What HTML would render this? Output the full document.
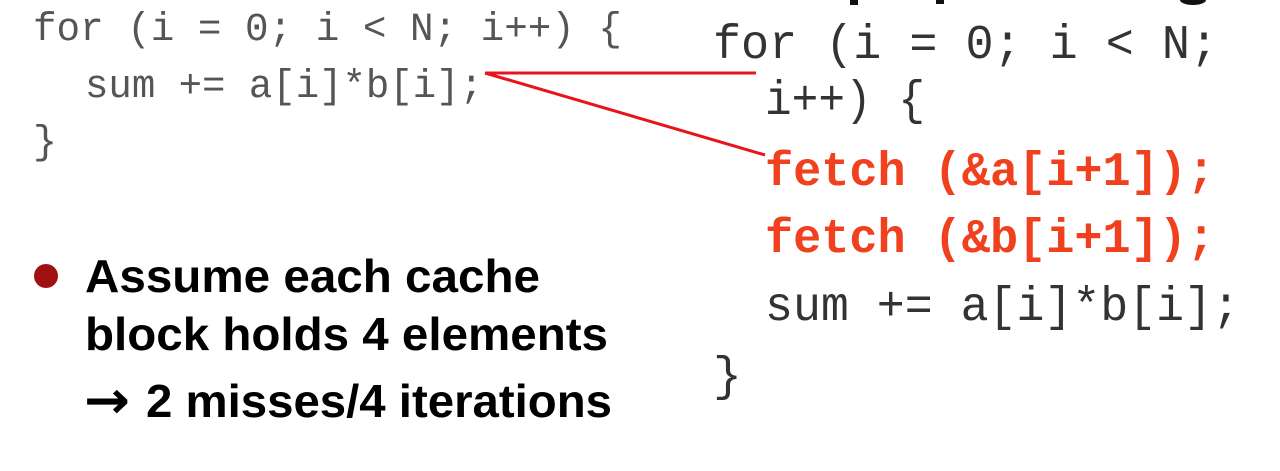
<!DOCTYPE html>
<html><head><meta charset="utf-8"><style>
html,body{margin:0;padding:0;background:#fff;width:1280px;height:471px;overflow:hidden}
svg{display:block}
.lm{font-family:"Liberation Mono",monospace;fill:#555;font-size:40px}
.rm{font-family:"Liberation Mono",monospace;fill:#333;font-size:48px}
.rf{font-family:"Liberation Mono",monospace;fill:#f0401e;font-size:48px;font-weight:bold}
.b{font-family:"Liberation Sans",sans-serif;font-weight:bold;fill:#000;font-size:46px}
</style></head><body>
<svg width="1280" height="471" viewBox="0 0 1280 471" xmlns="http://www.w3.org/2000/svg">
<rect x="850" y="0" width="8" height="5" fill="#111"/>
<rect x="936" y="0" width="8" height="4" fill="#111"/>
<ellipse cx="1193" cy="0" rx="13" ry="5" fill="#111"/>
<text class="lm" x="33" y="40" textLength="589" lengthAdjust="spacingAndGlyphs">for (i = 0; i &lt; N; i++) {</text>
<text class="lm" x="85" y="97" textLength="398" lengthAdjust="spacingAndGlyphs">sum += a[i]*b[i];</text>
<text class="lm" x="33" y="153">}</text>
<line x1="485" y1="73" x2="756" y2="73" stroke="#e8141c" stroke-width="3"/>
<line x1="485" y1="73" x2="765" y2="155" stroke="#e8141c" stroke-width="3"/>
<text class="rm" x="713" y="58" textLength="505" lengthAdjust="spacingAndGlyphs">for (i = 0; i &lt; N;</text>
<text class="rm" x="765" y="114" textLength="160" lengthAdjust="spacingAndGlyphs">i++) {</text>
<text class="rf" x="765" y="185" textLength="450" lengthAdjust="spacingAndGlyphs">fetch (&amp;a[i+1]);</text>
<text class="rf" x="765" y="252" textLength="450" lengthAdjust="spacingAndGlyphs">fetch (&amp;b[i+1]);</text>
<text class="rm" x="765" y="320" textLength="475" lengthAdjust="spacingAndGlyphs">sum += a[i]*b[i];</text>
<text class="rm" x="713" y="390">}</text>
<circle cx="46" cy="276" r="12" fill="#a01010"/>
<text class="b" x="85" y="292" textLength="455" lengthAdjust="spacingAndGlyphs">Assume each cache</text>
<text class="b" x="85" y="350" textLength="523" lengthAdjust="spacingAndGlyphs">block holds 4 elements</text>
<text x="84" y="418" font-family="DejaVu Sans, sans-serif" font-weight="bold" font-size="52" fill="#000" textLength="46" lengthAdjust="spacingAndGlyphs">→</text>
<text class="b" x="146" y="417" textLength="466" lengthAdjust="spacingAndGlyphs">2 misses/4 iterations</text>
</svg>
</body></html>
